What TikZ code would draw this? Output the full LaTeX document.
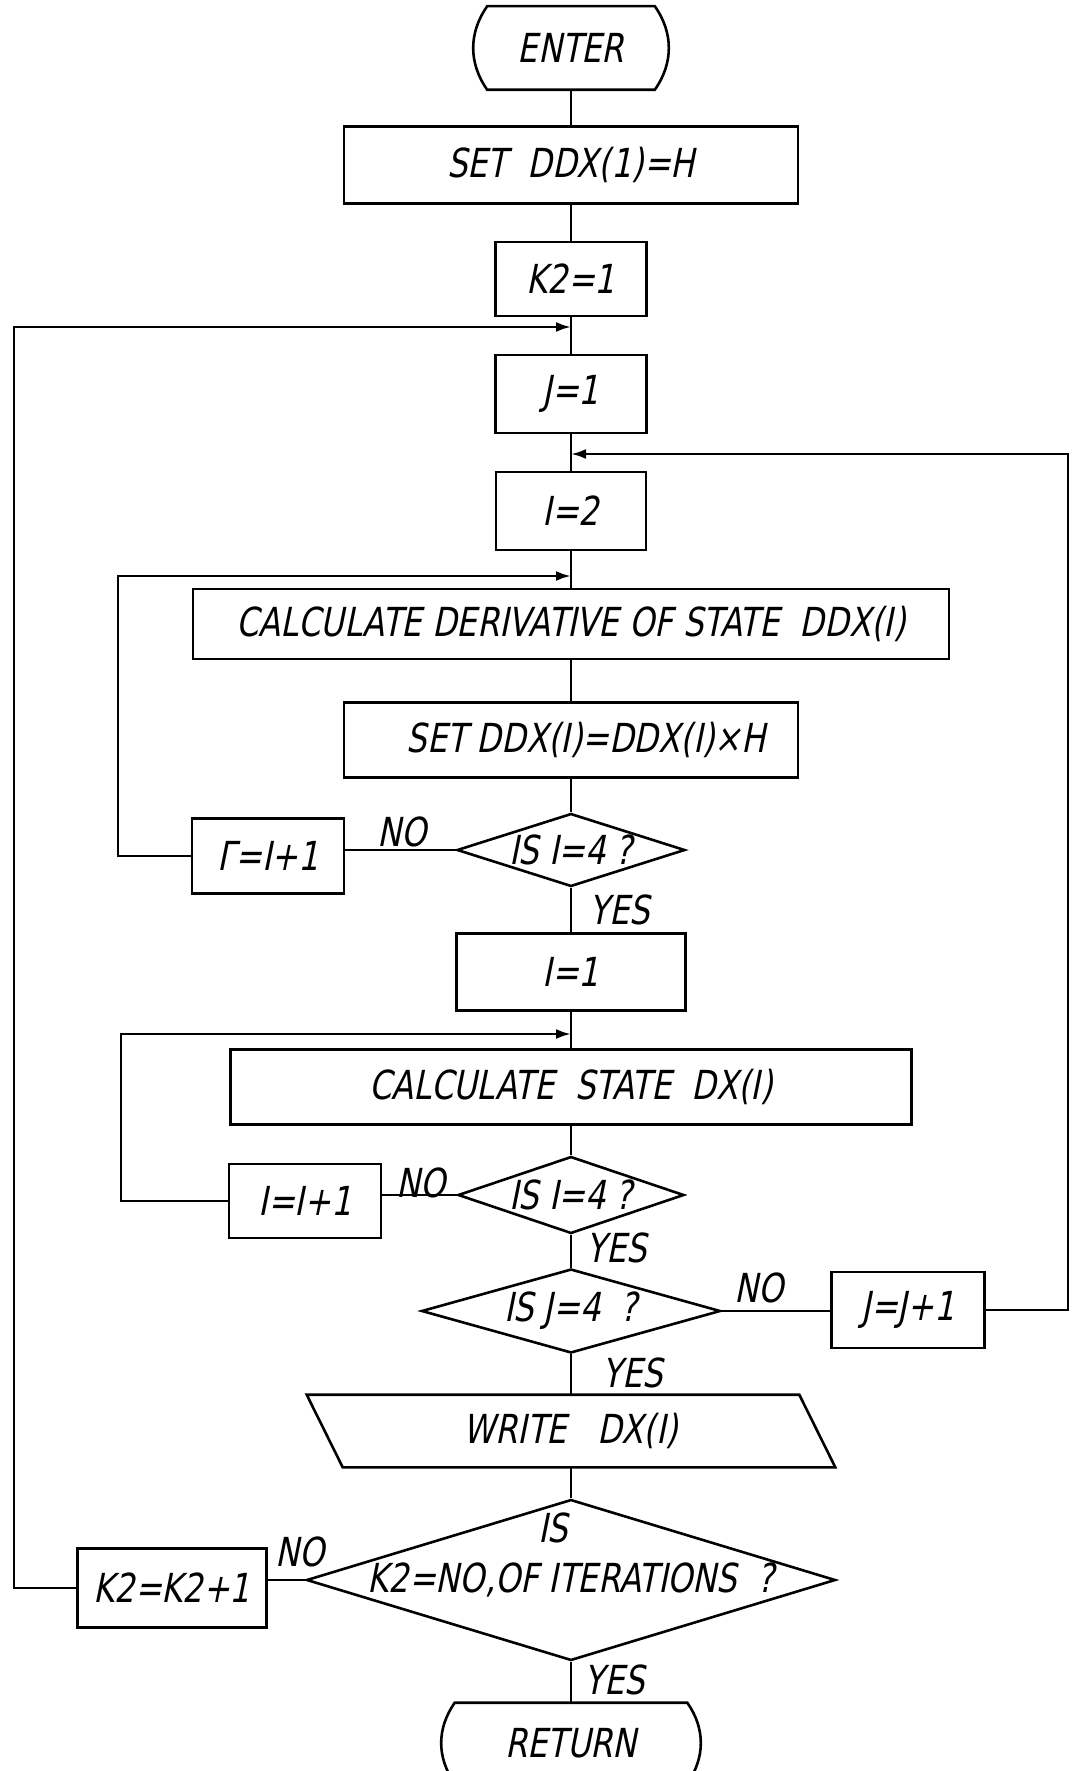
\documentclass[tikz,border=0pt]{standalone}
\usepackage{fontspec}
\newfontfamily\lettering[FakeSlant=0.2,FakeStretch=0.8]{DejaVu Sans}
\usetikzlibrary{shapes.geometric,arrows.meta}

\begin{document}
\begin{tikzpicture}[x=1pt,y=-1pt,line width=2.6pt,
        every node/.style={font={\lettering\fontsize{40}{44}\selectfont}},
        box/.style={draw,rectangle,inner sep=0pt},
        dia/.style={draw,diamond,inner sep=0pt},
        term/.style={inner sep=0pt},
        back/.style={-{Latex[length=15pt,width=10pt]}}]
        \useasboundingbox (0,0) rectangle (1074,1771);

        % main column
        \node[term, minimum width=165, minimum height=81] (enter) at (571,48) {ENTER};
        \draw (enter.north west) to[bend right=35] (enter.south west) -- (enter.south east) to[bend right=35] (enter.north east) -- cycle;
        \node[box, minimum width=454, minimum height=77] (setone) at (571,165) {SET\ \ DDX(1)=H};
        \node[box, minimum width=151, minimum height=74] (ktwo) at (571,279) {K2=1};
        \node[box, minimum width=151, minimum height=78] (jone) at (571,394) {J=1};
        \node[box, minimum width=150, minimum height=78] (itwo) at (571,511) {I=2};
        \node[box, minimum width=756, minimum height=70] (deriv) at (571,624) {CALCULATE DERIVATIVE OF STATE\ \ DDX(I)};
        \node[box, minimum width=454, minimum height=75] (setmul) at (571,740) {\ \ \ SET DDX(I)=DDX(I)×H};
        \node[dia, minimum width=228, minimum height=73] (isione) at (571,850) {\makebox[0pt]{IS I=4 ?}};
        \node[box, minimum width=229, minimum height=77] (ione) at (571,972) {I=1};
        \node[box, minimum width=681, minimum height=75] (state) at (571,1087) {CALCULATE\ \ STATE\ \ DX(I)};
        \node[dia, minimum width=226, minimum height=77] (isitwo) at (571,1195) {\makebox[0pt]{IS I=4 ?}};
        \node[dia, minimum width=299, minimum height=84] (isj) at (571,1311) {\makebox[0pt]{IS J=4\ \ ?}};
        \node[term, minimum width=490, minimum height=70] (write) at (571,1431) {WRITE\ \ \ DX(I)};
        \draw ([xshift=-18]write.north west) -- ([xshift=-18]write.north east) -- ([xshift=18]write.south east) -- ([xshift=18]write.south west) -- cycle;
        \node[dia, minimum width=529, minimum height=161] (isk) at (571,1580) {\makebox[0pt]{K2=NO,OF ITERATIONS\ \ ?}};
        \node (iskw) at (553,1528) {IS};
        \node[term, minimum width=230, minimum height=78] (ret) at (571,1743) {RETURN};
        \draw (ret.north west) to[bend right=35] (ret.south west) -- (ret.south east) to[bend right=35] (ret.north east) -- cycle;

        % side boxes
        \node[box, minimum width=152, minimum height=75] (incone) at (268,856) {Γ=I+1};
        \node[box, minimum width=152, minimum height=74] (inctwo) at (305,1201) {I=I+1};
        \node[box, minimum width=153, minimum height=76] (jinc) at (908,1310) {J=J+1};
        \node[box, minimum width=189, minimum height=79] (kinc) at (172,1588) {K2=K2+1};

        \foreach \a/\b in {enter/setone,setone/ktwo,ktwo/jone,jone/itwo,itwo/deriv,deriv/setmul,
                setmul/isione,isione/ione,ione/state,state/isitwo,isitwo/isj,isj/write,write/isk,isk/ret}
            \draw (\a) -- (\b);

        % NO branches
        \draw (isione.west) -- (isione.west -| incone.east);
        \draw (isitwo.west) -- (isitwo.west -| inctwo.east);
        \draw (isj.east) -- (isj.east -| jinc.west);
        \draw (isk.west) -- (isk.west -| kinc.east);

        % loops back
        \coordinate (joinkay) at (571,327);
        \coordinate (joinjay) at (571,454);
        \coordinate (joinone) at (571,576);
        \coordinate (jointwo) at (571,1034);
        \draw[back] (kinc.west) -| (14,327) -- (joinkay);
        \draw[back] (jinc.east) -| (1068,454) -- (joinjay);
        \draw[back] (incone.west) -| (118,576) -- (joinone);
        \draw[back] (inctwo.west) -| (121,1034) -- (jointwo);

        \node (noone) at (402,832) {NO};
        \node (notwo) at (421,1183) {NO};
        \node (nojay) at (759,1288) {NO};
        \node (nokay) at (300,1552) {NO};
        \node (yesone) at (620,910) {YES};
        \node (yestwo) at (617,1248) {YES};
        \node (yesjay) at (633,1373) {YES};
        \node (yeskay) at (615,1680) {YES};
    \end{tikzpicture}
\end{document}
